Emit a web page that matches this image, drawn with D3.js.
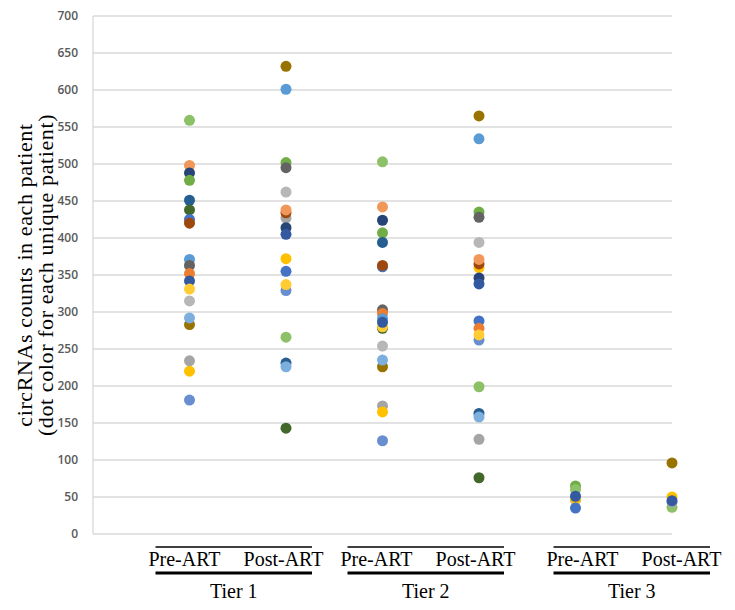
<!DOCTYPE html>
<html>
    <head>
        <style>
            body {
                margin: 0;
                background: #fff;
            }
            .tick-label {
                font-family: "Open Sans", "Liberation Sans", sans-serif;
                font-size: 12px;
                font-weight: 600;
                fill: #595959;
            }
            .serif {
                font-family: "Palatino Linotype", "Book Antiqua", Palatino, "Liberation Serif", serif;
                fill: #000;
            }
        </style>
        <meta charset="UTF-8">
        <title>circRNA counts per patient</title>
        <script type="text/javascript" src="https://cdnjs.cloudflare.com/ajax/libs/d3/7.9.0/d3.min.js"></script>
    </head>
    <body>
    <div id="plot"></div>
    <script>
        // ---- data ----
        const groupNames = ["Pre-ART", "Post-ART", "Pre-ART", "Post-ART", "Pre-ART", "Post-ART"];
        const tierNames = ["Tier 1", "Tier 2", "Tier 3"];
        const yTicks = [0, 50, 100, 150, 200, 250, 300, 350, 400, 450, 500, 550, 600, 650, 700];

        // one colour per patient (Excel series palette)
        const patientColors = [
            "#4472C4", "#ED7D31", "#A5A5A5", "#FFC000", "#5B9BD5", "#70AD47",
            "#264478", "#9E480E", "#636363", "#997300", "#255E91", "#43682B",
            "#698ED0", "#F1975A", "#B7B7B7", "#FFCD33", "#7CAFDD", "#8CC168",
            "#335AA1"
        ];

        // counts and patient index, in drawing order
        const tier1PreCounts   = [559, 498, 488, 478, 451, 438, 425, 420, 371, 363, 352, 342, 331, 315, 283, 292, 234, 220, 181];
        const tier1PrePatients = [17, 13, 6, 5, 10, 11, 0, 7, 4, 8, 1, 18, 15, 14, 9, 16, 2, 3, 12];

        const tier1PostCounts   = [632, 601, 502, 495, 462, 427, 434, 438, 414, 405, 372, 355, 329, 337, 266, 231, 226, 143];
        const tier1PostPatients = [9, 4, 5, 8, 14, 2, 7, 13, 6, 18, 3, 0, 12, 15, 17, 10, 16, 11];

        const tier2PreCounts   = [503, 442, 424, 407, 394, 361, 363, 303, 298, 278, 280, 291, 286, 254, 226, 235, 173, 165, 126];
        const tier2PrePatients = [17, 13, 6, 5, 10, 0, 7, 8, 1, 11, 15, 4, 18, 14, 9, 16, 2, 3, 12];

        const tier2PostCounts   = [565, 534, 435, 428, 394, 360, 365, 371, 346, 338, 288, 278, 262, 269, 199, 163, 158, 128, 76];
        const tier2PostPatients = [9, 4, 5, 8, 14, 3, 7, 13, 6, 18, 0, 1, 12, 15, 17, 10, 16, 2, 11];

        const tier3PreCounts   = [65, 60, 46, 47, 35, 51];
        const tier3PrePatients = [5, 17, 2, 3, 0, 18];

        const tier3PostCounts   = [96, 50, 36, 43, 45];
        const tier3PostPatients = [9, 3, 17, 2, 18];

        const groupCounts = [tier1PreCounts, tier1PostCounts, tier2PreCounts, tier2PostCounts, tier3PreCounts, tier3PostCounts];
        const groupPatients = [tier1PrePatients, tier1PostPatients, tier2PrePatients, tier2PostPatients, tier3PrePatients, tier3PostPatients];

        // ---- svg setup ----
        const margin = {top: 16, right: 63, bottom: 76, left: 93};
        const widthNom = 735;
        const heightNom = 610;
        const width = widthNom - margin.left - margin.right;
        const height = heightNom - margin.top - margin.bottom;

        const svg = d3.select("#plot")
            .append("svg")
                .attr("width", widthNom)
                .attr("height", heightNom)
            .append("g")
                .attr("transform", "translate(" + margin.left + "," + margin.top + ")");

        // x is a plain value axis 0..6, groups sit at 1..6
        const xScale = d3.scaleLinear()
            .domain([0, 6])
            .range([0, width]);

        const yScale = d3.scaleLinear()
            .domain([0, 700])
            .range([height, 0]);

        // gridlines
        svg.append("g")
            .selectAll("line")
            .data(yTicks)
            .enter()
            .append("line")
                .attr("x1", 0)
                .attr("x2", width)
                .attr("y1", d => yScale(d))
                .attr("y2", d => yScale(d))
                .attr("stroke", "#D9D9D9")
                .attr("stroke-width", 1.3);

        // vertical axis line
        svg.append("line")
            .attr("x1", 0).attr("x2", 0)
            .attr("y1", yScale(700)).attr("y2", yScale(0))
            .attr("stroke", "#D9D9D9")
            .attr("stroke-width", 1.3);

        // y tick labels
        const yAxis = d3.axisLeft(yScale).tickValues(yTicks).tickSize(0).tickPadding(15);
        const yAxisG = svg.append("g").call(yAxis);
        yAxisG.select(".domain").remove();
        yAxisG.selectAll("text").attr("class", "tick-label").attr("font-family", null).attr("font-size", null);

        // dots
        const points = [];
        groupCounts.forEach((counts, gi) => {
            counts.forEach((c, i) => {
                points.push({x: gi + 1, y: c, color: patientColors[groupPatients[gi][i]]});
            });
        });

        svg.append("g")
            .selectAll("circle")
            .data(points)
            .enter()
            .append("circle")
                .attr("cx", d => xScale(d.x))
                .attr("cy", d => yScale(d.y))
                .attr("r", 5.5)
                .attr("fill", d => d.color);

        // ---- category labels under the plot (pasted annotations) ----
        const tierShift = [-4, -5, 8]; // px nudge per tier, matches the original layout
        const ann = svg.append("g").attr("class", "serif");

        tierNames.forEach((t, ti) => {
            const xPre = xScale(ti * 2 + 1) + tierShift[ti];
            const xPost = xScale(ti * 2 + 2) + tierShift[ti];

            ann.append("line")
                .attr("x1", xPre - 30).attr("x2", xPost + 30)
                .attr("y1", height + 13).attr("y2", height + 13)
                .attr("stroke", "#000").attr("stroke-width", 1.4);

            ann.append("text")
                .attr("class", "serif")
                .attr("x", xPre - 1).attr("y", height + 32)
                .attr("text-anchor", "middle")
                .attr("font-size", 20)
                .text(groupNames[ti * 2]);

            ann.append("text")
                .attr("class", "serif")
                .attr("x", xPost + 1.5).attr("y", height + 32)
                .attr("text-anchor", "middle")
                .attr("font-size", 20)
                .text(groupNames[ti * 2 + 1]);

            ann.append("line")
                .attr("x1", xPre - 30).attr("x2", xPost + 30)
                .attr("y1", height + 39).attr("y2", height + 39)
                .attr("stroke", "#000").attr("stroke-width", 3);

            ann.append("text")
                .attr("class", "serif")
                .attr("x", (xPre + xPost) / 2).attr("y", height + 64)
                .attr("text-anchor", "middle")
                .attr("font-size", 20)
                .text(t);
        });

        // y axis title, two lines
        const yTitle = svg.append("text")
            .attr("class", "serif")
            .attr("transform", "translate(" + (-61) + "," + (height / 2) + ") rotate(-90)")
            .attr("text-anchor", "middle")
            .attr("font-size", 22)
            .attr("letter-spacing", 0.6);
        yTitle.append("tspan").attr("x", 0).attr("y", 0).text("circRNAs counts in each patient");
        yTitle.append("tspan").attr("x", 0).attr("y", 21).text("(dot color for each unique patient)");
    </script>
  </body>
</html>
